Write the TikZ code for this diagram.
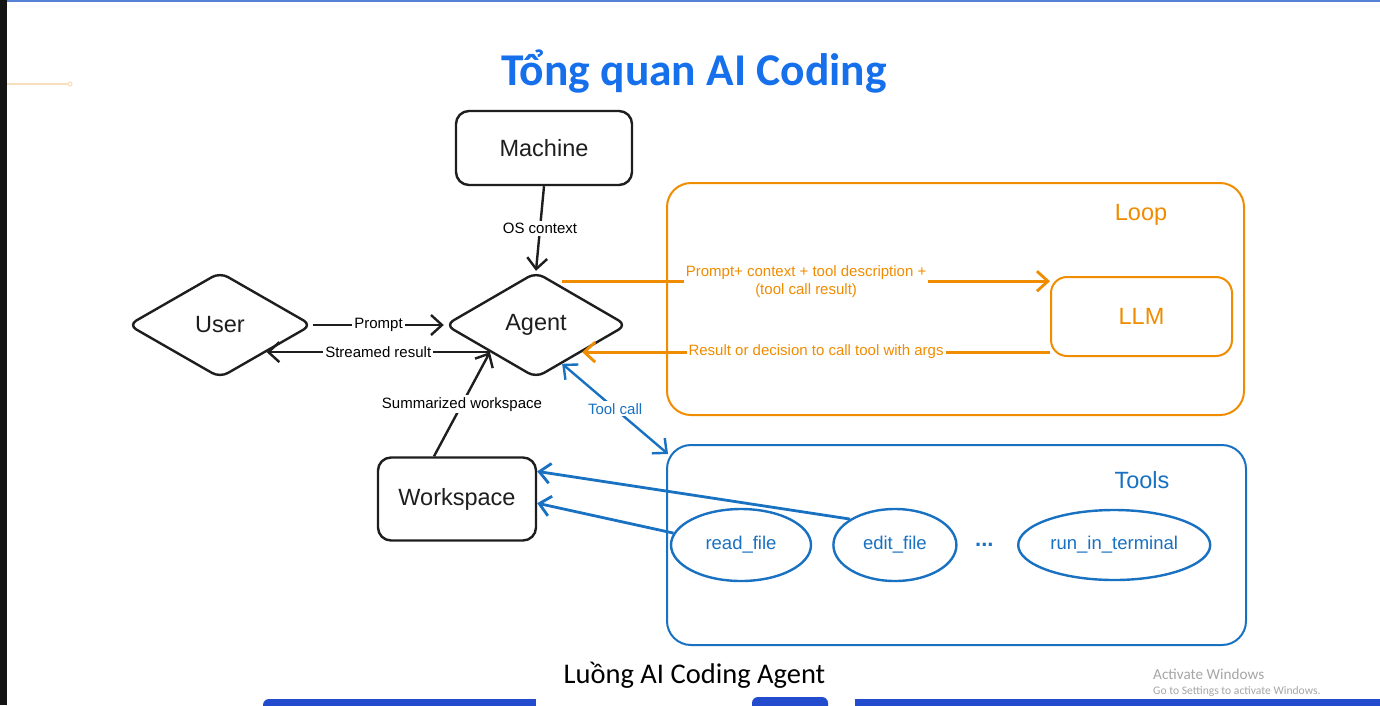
\documentclass[tikz,border=0pt]{standalone}
\usepackage{fontspec}
\setmainfont{Carlito}
\newfontfamily\sketchfont{Liberation Sans}
\usetikzlibrary{positioning,shapes.geometric,arrows.meta}
\definecolor{inkblack}{RGB}{30,30,30}
\definecolor{looporange}{RGB}{240,140,0}
\definecolor{toolblue}{RGB}{25,113,194}
\definecolor{titleblue}{RGB}{22,112,236}
\definecolor{barblue}{RGB}{35,75,205}
\definecolor{topblue}{RGB}{85,130,215}
\definecolor{paleorange}{RGB}{248,222,190}

\begin{document}
\begin{tikzpicture}[x=1pt, y=-1pt,
                    bigtext/.style={font=\sketchfont\fontsize{23.5}{27}\selectfont},
                    sketchbox/.style={draw=inkblack, line width=2.4pt, rounded corners=13pt, text=inkblack, bigtext},
                    sketchdiamond/.style={diamond, draw=inkblack, line width=2.4pt, rounded corners=9pt, inner sep=0pt,
                                          minimum width=182pt, minimum height=106pt, text=inkblack, bigtext},
                    loopframe/.style={draw=looporange, line width=2pt, rounded corners=24pt, text=looporange, bigtext},
                    toolframe/.style={draw=toolblue, line width=2pt, rounded corners=24pt, text=toolblue, bigtext},
                    toolnode/.style={ellipse, draw=toolblue, line width=2.4pt, inner sep=0pt, minimum height=72pt,
                                     text=toolblue, font=\sketchfont\fontsize{18.5}{21}\selectfont},
                    lbl/.style={fill=white, inner sep=2pt, font=\sketchfont\fontsize{15}{18}\selectfont},
                    blackarrow/.style={draw=inkblack, line width=2.4pt, -{Straight Barb[length=11pt,width=20pt]}},
                    orangearrow/.style={draw=looporange, line width=2.8pt, -{Straight Barb[length=11pt,width=20pt]}},
                    bluearrow/.style={draw=toolblue, line width=2.8pt, -{Straight Barb[length=11pt,width=20pt]}}]
    \useasboundingbox (0,0) rectangle (1380,705);
    \fill[white] (0,0) rectangle (1380,705);
    % screen edges
    \fill[black!92] (0,0) rectangle (7,705);
    \fill[topblue] (7,0) rectangle (1380,2);
    \draw[paleorange, line width=1.2pt] (7,84) -- (68,84);
    \draw[paleorange, line width=1pt] (70,84) circle (2);
    \fill[barblue, rounded corners=6pt] (263,699) rectangle (1392,715);
    \fill[white] (536,693) rectangle (855,715);
    \fill[barblue, rounded corners=6pt] (752,697) rectangle (828,715);
    % titles
    \node[anchor=base, text=titleblue, font=\bfseries\fontsize{45.5}{50}\selectfont] (title) at (694,85) {Tổng quan AI Coding};
    \node[anchor=base, text=black, font=\fontsize{28.5}{32}\selectfont] (caption) at (694.5,683) {Luồng AI Coding Agent};
    \node[anchor=base west, inner sep=0pt, text=black!35, font=\fontsize{15.2}{18}\selectfont] (activate) at (1153,679) {Activate Windows};
    \node[anchor=base west, inner sep=0pt, text=black!35, font=\fontsize{11.6}{13}\selectfont] (activatehint) at (1153,694) {Go to Settings to activate Windows.};
    % nodes
    \node[sketchbox, minimum width=176pt, minimum height=74pt]   (machine)   at (544,148)       {Machine};
    \node[sketchdiamond]                                         (agent)     at (536,325)       {Agent};
    \node[sketchdiamond, minimum width=184pt]                    (user)      at (220,325)       {User};
    \node[sketchbox, minimum width=158pt, minimum height=83pt]   (workspace) at (457,499)       {Workspace};
    \node[loopframe, minimum width=577pt, minimum height=232pt]  (loop)      at (955.5,299)     {};
    \node[text=looporange, bigtext]                              (looplabel) at (1141,215)      {Loop};
    \node[loopframe, rounded corners=16pt, minimum width=181pt, minimum height=79pt] (llm) at (1141.5,316.5) {LLM};
    \node[toolframe, minimum width=579pt, minimum height=200pt]  (tools)     at (956.5,545)     {};
    \node[text=toolblue, bigtext]                                (toolslabel) at (1142,480)     {Tools};
    \node[toolnode, minimum width=140pt]                         (read)      at (741,545)       {read\_file};
    \node[toolnode, minimum width=123pt]                         (edit)      [right=20pt of read] {edit\_file};
    \node[text=toolblue, font=\sketchfont\bfseries\fontsize{22}{24}\selectfont] (dots) [right=14pt of edit] {...};
    \node[toolnode, minimum width=192pt, minimum height=70pt]    (run)       [right=20pt of dots] {run\_in\_terminal};
    % lines
    \draw[blackarrow] (machine.south) -- node[lbl] {OS context} (agent.north);
    \draw[blackarrow] (user.east) -- node[lbl] {Prompt} (agent.west);
    \draw[blackarrow] (agent.south west) -- node[lbl] {Streamed result} (user.south east);
    \draw[blackarrow] ([xshift=-23pt]workspace.north) -- node[lbl] {Summarized workspace} (agent.south west);
    \draw[orangearrow] ([yshift=5pt]agent.56) -- node[lbl, text=looporange, align=center] {Prompt+ context + tool description +\\(tool call result)} ([yshift=5pt]agent.56 -| llm.west);
    \draw[orangearrow] (llm.west |- agent.south east) -- node[lbl, text=looporange] {Result or decision to call tool with args} (agent.south east);
    \draw[bluearrow, line width=2.4pt, {Straight Barb[length=11pt,width=20pt]}-{Straight Barb[length=11pt,width=20pt]}]
        (agent.-56) -- node[lbl, text=toolblue] {Tool call} ([shift={(2,10)}]tools.north west);
    \draw[bluearrow] (edit.150) -- (workspace.19);
    \draw[bluearrow] (read.170) -- (workspace.-3);
\end{tikzpicture}
\end{document}
